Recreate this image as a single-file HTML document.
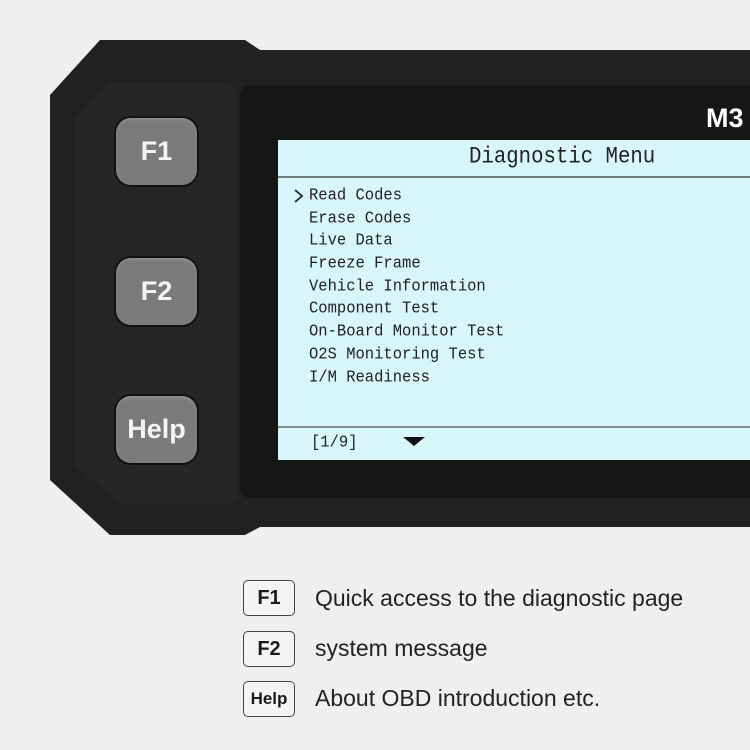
<!DOCTYPE html>
<html><head><meta charset="utf-8"><style>
body{margin:0;width:750px;height:750px;background:#efeff1;position:relative;overflow:hidden;font-family:"Liberation Sans",sans-serif}
.a{position:absolute}
.btn{position:absolute;left:116px;width:81px;height:67px;background:#7b7b7b;border-radius:15px;box-shadow:0 0 0 2px #111,inset 0 2px 2px rgba(255,255,255,.15);color:#f4f4f4;font-weight:bold;font-size:27px;text-align:center;line-height:67px}
.m{position:absolute;font-family:"Liberation Mono",monospace;font-size:15.5px;color:#222;left:309px;transform:scaleY(1.1)}
.k{position:absolute;left:243px;width:50px;height:34px;border:1.5px solid #444;border-radius:5px;font-weight:bold;color:#1a1a1a;text-align:center;line-height:34px;font-size:20px;background:#f4f4f6}
.t{position:absolute;left:315px;font-size:23px;color:#222}
</style></head><body>
<svg class="a" style="left:0;top:0" width="750" height="750">
<polygon points="100,40 245,40 260,50 750,50 750,527 260,527 245,535 110,535 50,480 50,95" fill="#202123"/>
<polygon points="110,82 230,82 238,92 238,500 228,505 120,505 75,465 75,120" fill="#252628"/>
<rect x="240" y="85" width="520" height="413" rx="10" fill="#161617"/>
<rect x="278" y="140" width="480" height="320" fill="#d8f5fa"/>
<line x1="278" y1="177" x2="750" y2="177" stroke="#555" stroke-width="1.5"/>
<line x1="278" y1="427" x2="750" y2="427" stroke="#666" stroke-width="1.5"/>
<polygon points="403,437 425,437 414,446" fill="#111"/>
<polyline points="295,190 302,196 295,202" fill="none" stroke="#222" stroke-width="1.8"/>
</svg>
<div class="a" style="left:706px;top:103px;color:#fff;font-weight:bold;font-size:27px">M3</div>
<div class="a" style="left:469px;top:146px;font-family:'Liberation Mono',monospace;font-size:20.7px;color:#222;transform:scaleY(1.1)">Diagnostic Menu</div>
<div class="m" style="top:186px">Read Codes</div>
<div class="m" style="top:209px">Erase Codes</div>
<div class="m" style="top:231px">Live Data</div>
<div class="m" style="top:254px">Freeze Frame</div>
<div class="m" style="top:277px">Vehicle Information</div>
<div class="m" style="top:299px">Component Test</div>
<div class="m" style="top:322px">On-Board Monitor Test</div>
<div class="m" style="top:345px">O2S Monitoring Test</div>
<div class="m" style="top:368px">I/M Readiness</div>
<div class="m" style="top:433px;left:311px">[1/9]</div>
<div class="btn" style="top:118px">F1</div>
<div class="btn" style="top:258px">F2</div>
<div class="btn" style="top:396px">Help</div>
<div class="k" style="top:580px">F1</div>
<div class="t" style="top:585px">Quick access to the diagnostic page</div>
<div class="k" style="top:631px">F2</div>
<div class="t" style="top:635px">system message</div>
<div class="k" style="top:681px;font-size:17px">Help</div>
<div class="t" style="top:685px">About OBD introduction etc.</div>
</body></html>
